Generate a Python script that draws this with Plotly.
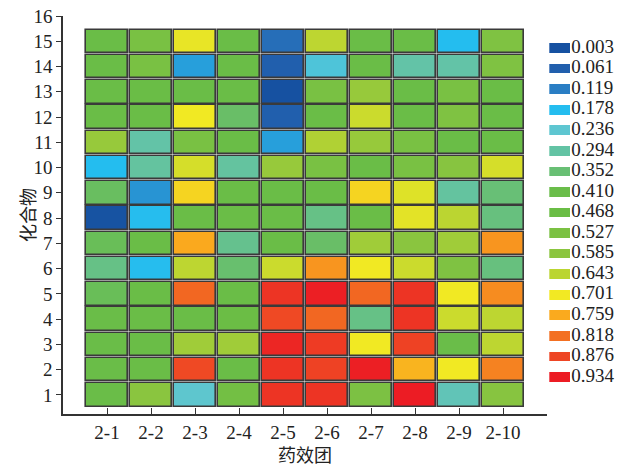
import plotly.graph_objects as go

# ---------------- data ----------------
groups = ["2-1", "2-2", "2-3", "2-4", "2-5", "2-6", "2-7", "2-8", "2-9", "2-10"]
compounds = list(range(1, 16))

# values per column (药效团), listed for compounds 1..15 (bottom to top)
v_2_1 = [0.43, 0.43, 0.43, 0.43, 0.39, 0.33, 0.39, 0.01, 0.38, 0.178, 0.60, 0.44, 0.44, 0.44, 0.44]
v_2_2 = [0.58, 0.44, 0.44, 0.44, 0.44, 0.18, 0.44, 0.18, 0.14, 0.30, 0.29, 0.44, 0.46, 0.52, 0.52]
v_2_3 = [0.24, 0.87, 0.61, 0.44, 0.83, 0.645, 0.76, 0.44, 0.72, 0.67, 0.52, 0.70, 0.44, 0.15, 0.69]
v_2_4 = [0.50, 0.44, 0.61, 0.47, 0.44, 0.36, 0.32, 0.44, 0.44, 0.30, 0.44, 0.37, 0.44, 0.44, 0.44]
v_2_5 = [0.90, 0.90, 0.92, 0.87, 0.90, 0.66, 0.44, 0.44, 0.44, 0.60, 0.15, 0.06, 0.003, 0.06, 0.09]
v_2_6 = [0.90, 0.88, 0.89, 0.83, 0.93, 0.78, 0.37, 0.33, 0.44, 0.52, 0.63, 0.44, 0.52, 0.22, 0.645]
v_2_7 = [0.53, 0.93, 0.70, 0.33, 0.83, 0.70, 0.61, 0.44, 0.72, 0.44, 0.60, 0.66, 0.60, 0.44, 0.44]
v_2_8 = [0.934, 0.75, 0.88, 0.90, 0.90, 0.66, 0.58, 0.685, 0.68, 0.52, 0.52, 0.44, 0.44, 0.29, 0.44]
v_2_9 = [0.27, 0.70, 0.42, 0.66, 0.70, 0.54, 0.61, 0.643, 0.30, 0.57, 0.44, 0.54, 0.52, 0.29, 0.178]
v_2_10 = [0.57, 0.80, 0.645, 0.645, 0.79, 0.34, 0.78, 0.34, 0.35, 0.67, 0.44, 0.44, 0.46, 0.54, 0.54]
columns = [v_2_1, v_2_2, v_2_3, v_2_4, v_2_5, v_2_6, v_2_7, v_2_8, v_2_9, v_2_10]

legend_levels = [0.003, 0.061, 0.119, 0.178, 0.236, 0.294, 0.352, 0.410, 0.468,
                 0.527, 0.585, 0.643, 0.701, 0.759, 0.818, 0.876, 0.934]
legend_labels = ["0.003", "0.061", "0.119", "0.178", "0.236", "0.294", "0.352", "0.410", "0.468",
                 "0.527", "0.585", "0.643", "0.701", "0.759", "0.818", "0.876", "0.934"]
level_colors = ["#1651A1", "#215FAD", "#2A7EC4", "#24BDEF", "#5EC6D1", "#63C3A4", "#68BF74",
                "#6ABD4A", "#6ABD45", "#7BC143", "#8BC53F", "#BBD531", "#F2E923", "#FAAA1E",
                "#F37022", "#EE4524", "#EC1C24"]


def hex2rgb(h):
    h = h.lstrip("#")
    return tuple(int(h[i:i + 2], 16) for i in (0, 2, 4))


def value_color(v):
    if v <= legend_levels[0]:
        return level_colors[0]
    if v >= legend_levels[-1]:
        return level_colors[-1]
    for i in range(len(legend_levels) - 1):
        a, b = legend_levels[i], legend_levels[i + 1]
        if a <= v <= b:
            t = (v - a) / (b - a)
            c1, c2 = hex2rgb(level_colors[i]), hex2rgb(level_colors[i + 1])
            c = [round(c1[k] + (c2[k] - c1[k]) * t) for k in range(3)]
            return "rgb(%d,%d,%d)" % tuple(c)
    return level_colors[-1]


# ---------------- figure ----------------
serif = "Liberation Serif"
cjk = "Noto Sans CJK SC"
cell_h = 0.93
cell_w = 0.945

xs, hs, bases, cols = [], [], [], []
for ci, col in enumerate(columns):
    for ri, v in enumerate(col):
        xs.append(ci + 1)
        hs.append(cell_h)
        bases.append(compounds[ri] - cell_h / 2)
        cols.append(value_color(v))

fig = go.Figure()
fig.add_trace(go.Bar(
    x=xs, y=hs, base=bases, width=cell_w,
    marker=dict(color=cols, line=dict(color="#3a3a3a", width=1.6)),
    showlegend=False, hoverinfo="skip",
))

# legend panel drawn on its own axes
n = len(legend_levels)
fig.add_trace(go.Bar(
    x=[21.4] * n, y=list(range(n)), base=[0] * n, orientation="h", width=0.47,
    marker=dict(color=level_colors, line=dict(width=0)),
    xaxis="x2", yaxis="y2", showlegend=False, hoverinfo="skip",
))
fig.add_trace(go.Scatter(
    x=[22.0] * n, y=list(range(n)), mode="text", text=legend_labels,
    textposition="middle right", textfont=dict(family=serif, size=19, color="#222"),
    xaxis="x2", yaxis="y2", showlegend=False, hoverinfo="skip", cliponaxis=False,
))

fig.update_layout(
    width=621, height=467,
    margin=dict(l=63, r=0, t=16, b=53),
    paper_bgcolor="white", plot_bgcolor="white",
    barmode="overlay", bargap=0,
    font=dict(family=serif, size=18, color="#222"),
    xaxis=dict(
        domain=[0, 484 / 558], range=[0, 11],
        tickmode="array", tickvals=list(range(1, 12)), ticktext=groups + [""],
        ticks="inside", ticklen=6, tickwidth=1.2, tickcolor="#333",
        showline=True, linecolor="#333", linewidth=1.5,
        showgrid=False, zeroline=False,
        tickfont=dict(family=serif, size=19, color="#222"),
        title=dict(text="药效团", font=dict(family=cjk, size=18, color="#222"), standoff=10),
    ),
    yaxis=dict(
        domain=[0, 1], range=[0.245, 16],
        tickmode="array", tickvals=list(range(1, 17)), ticktext=[str(i) for i in range(1, 17)],
        ticks="outside", ticklen=5, tickwidth=1.2, tickcolor="#333",
        showline=True, linecolor="#333", linewidth=1.5,
        showgrid=False, zeroline=False,
        tickfont=dict(family=serif, size=19, color="#222"),
    ),
    xaxis2=dict(domain=[0.8715, 1.0], range=[0, 71.9], anchor="y2", visible=False, fixedrange=True),
    yaxis2=dict(domain=[0, 1], range=[17.80, -1.556], anchor="x2", visible=False, fixedrange=True),
    annotations=[dict(
        text="化合物", textangle=-90, xref="paper", yref="paper",
        x=(27 - 63) / 558, y=0.5, xanchor="center", yanchor="middle", showarrow=False,
        font=dict(family=cjk, size=18, color="#222"),
    )],
)

fig.write_html("out.html", config={"displayModeBar": False},
               post_script="document.body.style.margin='0';document.body.style.padding='0';")
